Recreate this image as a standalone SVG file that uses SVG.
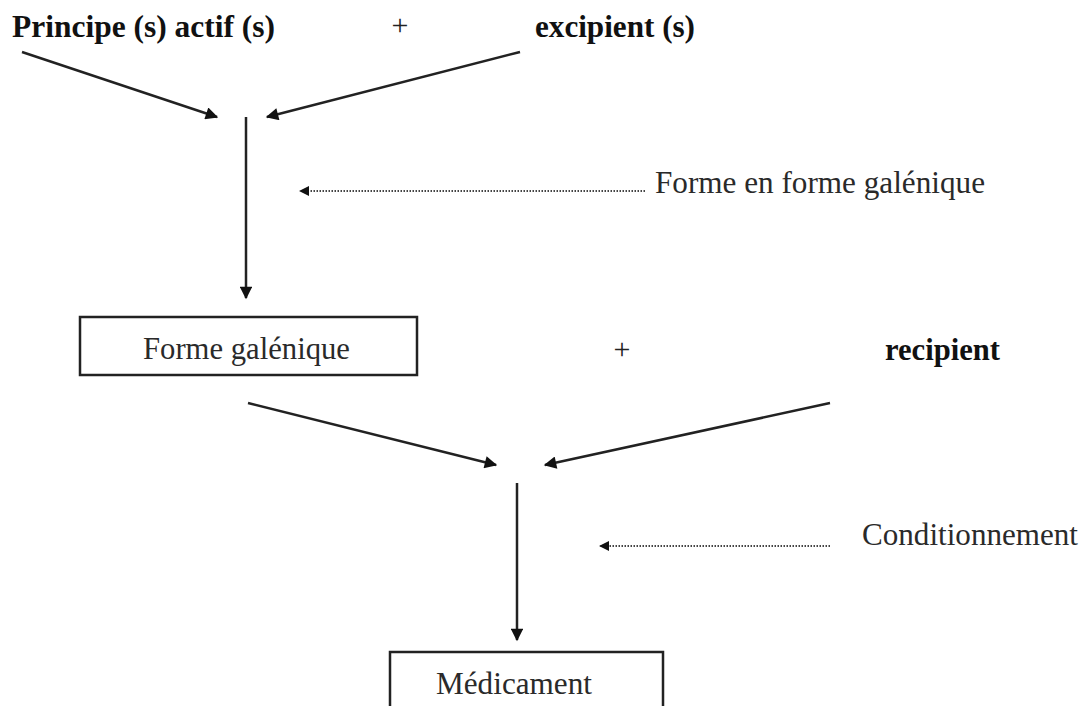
<svg xmlns="http://www.w3.org/2000/svg" width="1084" height="706" viewBox="0 0 1084 706">
<defs>
<style>
text{font-family:'Liberation Serif','Times New Roman',Times,serif;font-size:31px;fill:#2a2a2a}
.b{font-weight:bold;fill:#111}
.p{font-size:30px;fill:#222}
.ln{stroke:#222;stroke-width:2.5;fill:none}
.dot{stroke:#444;stroke-width:2;stroke-dasharray:1.5 1.5;fill:none}
.box{fill:#fff;stroke:#222;stroke-width:2.5}
</style>
<marker id="ah" viewBox="0 0 10 10" refX="9" refY="5" markerWidth="6.5" markerHeight="5" orient="auto" markerUnits="strokeWidth">
<path d="M0,0 L10,5 L0,10 z" fill="#111"/>
</marker>
<marker id="ahs" viewBox="0 0 10 10" refX="9" refY="5" markerWidth="6.5" markerHeight="5" orient="auto" markerUnits="strokeWidth">
<path d="M0,0 L10,5 L0,10 z" fill="#111"/>
</marker>
</defs>
<rect width="1084" height="706" fill="#fff"/>
<g id="principe"><text class="b" x="12" y="37" textLength="263" lengthAdjust="spacingAndGlyphs">Principe (s) actif (s)</text></g>
<g id="plus1"><text class="p" x="400" y="35" text-anchor="middle">+</text></g>
<g id="excipient"><text class="b" x="535" y="37" textLength="160" lengthAdjust="spacingAndGlyphs">excipient (s)</text></g>
<g id="label-forme"><text x="655" y="193" textLength="330" lengthAdjust="spacingAndGlyphs">Forme en forme galénique</text></g>
<g id="forme-galenique"><rect class="box" x="80" y="317" width="337" height="58"/><text x="143" y="359" textLength="207" lengthAdjust="spacingAndGlyphs">Forme galénique</text></g>
<g id="plus2"><text class="p" x="622" y="359" text-anchor="middle">+</text></g>
<g id="recipient"><text class="b" x="885" y="360" textLength="115" lengthAdjust="spacingAndGlyphs">recipient</text></g>
<g id="label-cond"><text x="862" y="545" textLength="216" lengthAdjust="spacingAndGlyphs">Conditionnement</text></g>
<g id="medicament"><rect class="box" x="390" y="652" width="273" height="70"/><text x="436" y="694" textLength="156" lengthAdjust="spacingAndGlyphs">Médicament</text></g>
<g id="connectors">
<line class="ln" x1="22" y1="52" x2="217" y2="117" marker-end="url(#ah)"/>
<line class="ln" x1="520" y1="52" x2="267" y2="117" marker-end="url(#ah)"/>
<line class="ln" x1="246" y1="117" x2="246" y2="298" marker-end="url(#ah)"/>
<line class="dot" x1="645" y1="191" x2="300" y2="191" marker-end="url(#ahs)"/>
<line class="ln" x1="248" y1="403" x2="496" y2="465" marker-end="url(#ah)"/>
<line class="ln" x1="830" y1="403" x2="545" y2="465" marker-end="url(#ah)"/>
<line class="ln" x1="517" y1="483" x2="517" y2="640" marker-end="url(#ah)"/>
<line class="dot" x1="830" y1="546" x2="600" y2="546" marker-end="url(#ahs)"/>
</g>
</svg>
